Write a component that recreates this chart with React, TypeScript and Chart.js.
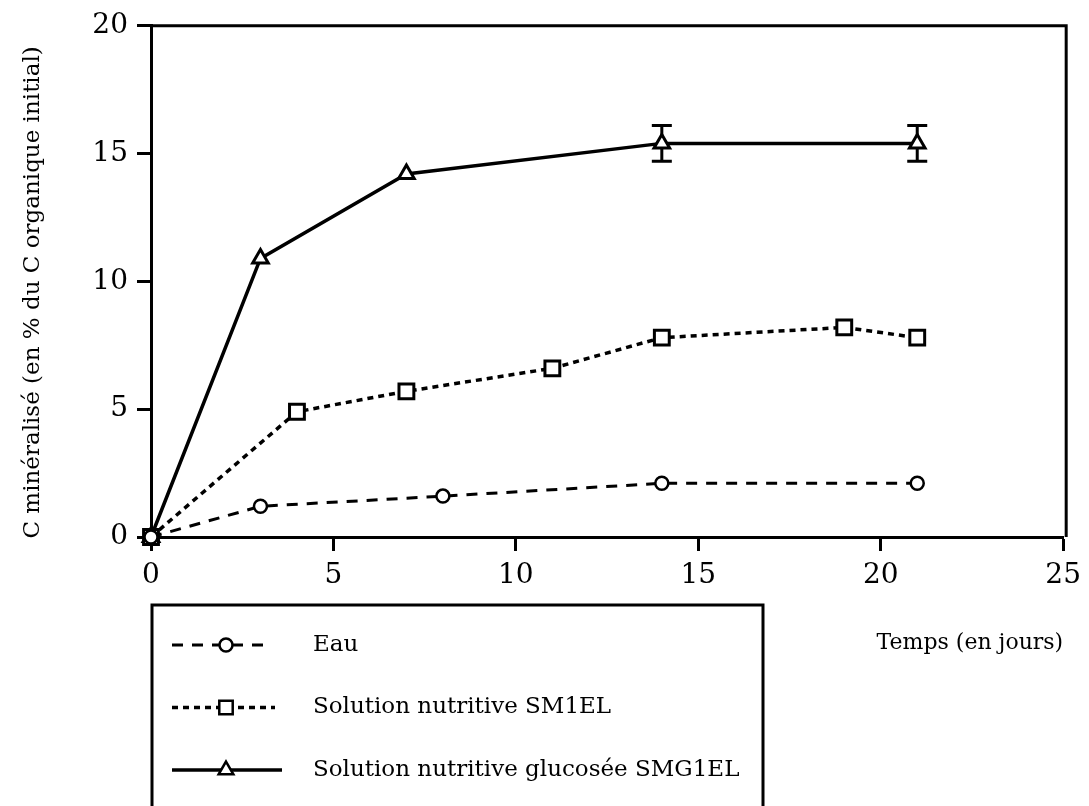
import React, { useEffect, useRef } from 'react';
import { Chart, registerables } from 'chart.js';

Chart.register(...registerables);

const FONT = "'DejaVu Serif', 'Liberation Serif', serif";

// ---- data ----
const eauDays = [0, 3, 8, 14, 21];
const eauValues = [0, 1.2, 1.6, 2.1, 2.1];

const sm1elDays = [0, 4, 7, 11, 14, 19, 21];
const sm1elValues = [0, 4.9, 5.7, 6.6, 7.8, 8.2, 7.8];

const smg1elDays = [0, 3, 7, 14, 21];
const smg1elValues = [0, 10.9, 14.2, 15.4, 15.4];
const smg1elErrors = [0, 0, 0, 0.7, 0.7];

const seriesLabels = ['Eau', 'Solution nutritive SM1EL', 'Solution nutritive glucosée SMG1EL'];

const xTicks = [0, 5, 10, 15, 20, 25];
const yTicks = [0, 5, 10, 15, 20];

const xTitle = 'Temps (en jours)';
const yTitle = 'C minéralisé (en % du C organique initial)';

function toPoints(xs: number[], ys: number[]) {
  return xs.map((x, i) => ({ x, y: ys[i] }));
}

function drawMarker(ctx: CanvasRenderingContext2D, style: string, x: number, y: number, r: number) {
  ctx.beginPath();
  if (style === 'circle') {
    ctx.arc(x, y, r, 0, Math.PI * 2);
  } else if (style === 'rect') {
    const s = Math.SQRT1_2 * r;
    ctx.rect(x - s, y - s, 2 * s, 2 * s);
  } else if (style === 'triangle') {
    let rad = 0;
    ctx.moveTo(x + Math.sin(rad) * r, y - Math.cos(rad) * r);
    rad += (2 * Math.PI) / 3;
    ctx.lineTo(x + Math.sin(rad) * r, y - Math.cos(rad) * r);
    rad += (2 * Math.PI) / 3;
    ctx.lineTo(x + Math.sin(rad) * r, y - Math.cos(rad) * r);
    ctx.closePath();
  }
  ctx.fill();
  ctx.stroke();
}

const framePlugin = {
  id: 'frame',
  beforeDatasetsDraw(chart: any) {
    const { ctx, chartArea } = chart;
    ctx.save();
    ctx.strokeStyle = '#000';
    ctx.lineWidth = 3;
    ctx.beginPath();
    ctx.moveTo(chartArea.left, chartArea.top);
    ctx.lineTo(chartArea.right + 3, chartArea.top);
    ctx.lineTo(chartArea.right + 3, chartArea.bottom);
    ctx.stroke();
    ctx.restore();
  },
};

const errorBarPlugin = {
  id: 'errorBars',
  beforeDatasetsDraw(chart: any) {
    const { ctx } = chart;
    const xs = chart.scales.x;
    const ys = chart.scales.y;
    ctx.save();
    ctx.strokeStyle = '#000';
    ctx.lineWidth = 3;
    chart.data.datasets.forEach((ds: any) => {
      if (!ds.errors) return;
      ds.data.forEach((p: any, i: number) => {
        const e = ds.errors[i];
        if (!e) return;
        const px = xs.getPixelForValue(p.x);
        const top = ys.getPixelForValue(p.y + e);
        const bot = ys.getPixelForValue(p.y - e);
        ctx.beginPath();
        ctx.moveTo(px, top);
        ctx.lineTo(px, bot);
        ctx.moveTo(px - 10, top);
        ctx.lineTo(px + 10, top);
        ctx.moveTo(px - 10, bot);
        ctx.lineTo(px + 10, bot);
        ctx.stroke();
      });
    });
    ctx.restore();
  },
};

const yTitlePlugin = {
  id: 'yTitle',
  afterDraw(chart: any) {
    const { ctx, chartArea } = chart;
    ctx.save();
    ctx.translate(33, (chartArea.top + chartArea.bottom) / 2 + 11);
    ctx.rotate(-Math.PI / 2);
    ctx.fillStyle = '#000';
    ctx.font = `23px ${FONT}`;
    ctx.textAlign = 'center';
    ctx.textBaseline = 'middle';
    ctx.fillText(yTitle, 0, 0);
    ctx.restore();
  },
};

const boxLegendPlugin = {
  id: 'boxLegend',
  afterDraw(chart: any) {
    const { ctx } = chart;
    ctx.save();
    ctx.strokeStyle = '#000';
    ctx.lineWidth = 3;
    ctx.beginPath();
    ctx.moveTo(152, 830);
    ctx.lineTo(152, 605);
    ctx.lineTo(763, 605);
    ctx.lineTo(763, 830);
    ctx.stroke();

    const sampleEnds = [268, 275, 282];
    const markerSizes = [6.5, 9.5, 8.5];
    chart.data.datasets.forEach((ds: any, i: number) => {
      const y = 645 + i * 62.5;
      ctx.save();
      ctx.lineWidth = ds.borderWidth;
      ctx.setLineDash(ds.borderDash || []);
      ctx.strokeStyle = '#000';
      ctx.beginPath();
      ctx.moveTo(172, y);
      ctx.lineTo(sampleEnds[i], y);
      ctx.stroke();
      ctx.setLineDash([]);
      ctx.fillStyle = '#fff';
      ctx.lineWidth = 2.5;
      drawMarker(ctx, ds.pointStyle, 226, y, markerSizes[i]);
      ctx.restore();

      ctx.fillStyle = '#000';
      ctx.font = `23px ${FONT}`;
      ctx.textBaseline = 'middle';
      ctx.textAlign = 'left';
      ctx.fillText(ds.label, 313, y);
    });
    ctx.restore();
  },
};

export default function App() {
  const canvasRef = useRef<HTMLCanvasElement | null>(null);

  useEffect(() => {
    if (!canvasRef.current) return;
    const chart = new Chart(canvasRef.current, {
      type: 'line',
      data: {
        datasets: [
          {
            label: seriesLabels[0],
            data: toPoints(eauDays, eauValues),
            borderColor: '#000',
            borderWidth: 3,
            borderDash: [11, 9],
            pointStyle: 'circle',
            pointRadius: 6.5,
            pointBorderWidth: 2.5,
            pointBackgroundColor: '#fff',
            pointBorderColor: '#000',
            tension: 0,
            clip: false,
          } as any,
          {
            label: seriesLabels[1],
            data: toPoints(sm1elDays, sm1elValues),
            borderColor: '#000',
            borderWidth: 3.5,
            borderDash: [6, 5],
            pointStyle: 'rect',
            pointRadius: 10.5,
            pointBorderWidth: 3,
            pointBackgroundColor: '#fff',
            pointBorderColor: '#000',
            tension: 0,
            clip: false,
          } as any,
          {
            label: seriesLabels[2],
            data: toPoints(smg1elDays, smg1elValues),
            errors: smg1elErrors,
            borderColor: '#000',
            borderWidth: 3.5,
            pointStyle: 'triangle',
            pointRadius: 9,
            pointBorderWidth: 3,
            pointBackgroundColor: '#fff',
            pointBorderColor: '#000',
            tension: 0,
            clip: false,
          } as any,
        ],
      },
      options: {
        responsive: false,
        animation: false,
        layout: { padding: { left: 0, top: 25, right: 22, bottom: 0 } },
        plugins: {
          legend: { display: false },
          tooltip: { enabled: false },
        },
        scales: {
          x: {
            type: 'linear',
            min: 0,
            max: 25,
            afterFit: (scale: any) => {
              scale.height = 269;
            },
            afterBuildTicks: (scale: any) => {
              scale.ticks = xTicks.map((v) => ({ value: v }));
            },
            ticks: {
              color: '#000',
              font: { family: FONT, size: 28 },
              padding: 8,
              maxRotation: 0,
              autoSkip: false,
            },
            grid: {
              drawOnChartArea: false,
              drawTicks: true,
              tickLength: 14,
              tickWidth: 3,
              color: '#000',
            },
            border: { display: true, color: '#000', width: 3 },
            title: {
              display: true,
              text: xTitle,
              align: 'end',
              color: '#000',
              font: { family: FONT, size: 22 },
              padding: { top: 0, bottom: 150 },
            },
          },
          y: {
            type: 'linear',
            min: 0,
            max: 20,
            afterFit: (scale: any) => {
              scale.width = 151;
            },
            afterBuildTicks: (scale: any) => {
              scale.ticks = yTicks.map((v) => ({ value: v }));
            },
            ticks: {
              color: '#000',
              font: { family: FONT, size: 28 },
              padding: 9,
              autoSkip: false,
            },
            grid: {
              drawOnChartArea: false,
              drawTicks: true,
              tickLength: 14,
              tickWidth: 3,
              color: '#000',
            },
            border: { display: true, color: '#000', width: 3 },
            title: { display: false, text: yTitle },
          },
        },
      },
      plugins: [framePlugin, errorBarPlugin, yTitlePlugin, boxLegendPlugin],
    });
    return () => chart.destroy();
  }, []);

  return (
    <div style={{ position: 'absolute', left: 0, top: 0, width: 1089, height: 806, background: '#fff' }}>
      <canvas ref={canvasRef} width={1089} height={806} style={{ display: 'block' }} />
    </div>
  );
}
